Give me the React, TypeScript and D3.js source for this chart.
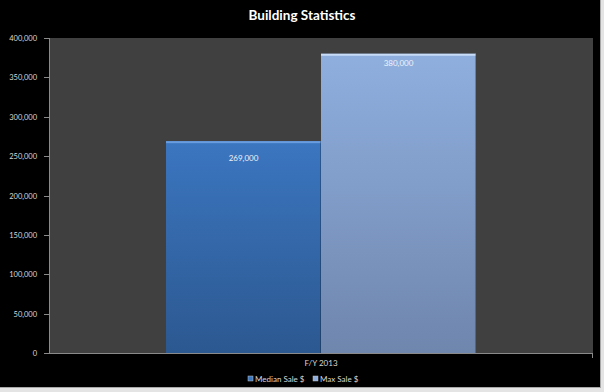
import React from 'react';
import * as d3 from 'd3';

const W = 604;
const H = 392;
const MARGIN = { top: 38, right: 12, bottom: 39, left: 49 };

const categories = ['F/Y 2013'];
const seriesNames = ['Median Sale $', 'Max Sale $'];
const values = [269000, 380000];
const yTicks = [0, 50000, 100000, 150000, 200000, 250000, 300000, 350000, 400000];

const FONT = 'Lato, "Open Sans", sans-serif';

const App = () => {
  const plotRight = MARGIN.left + 544;
  const plotBottom = 353;

  const x = d3.scaleBand().domain(categories).range([MARGIN.left, plotRight]);
  const xs = d3
    .scaleBand()
    .domain(seriesNames)
    .range([0, x.bandwidth()])
    .paddingOuter(0.755)
    .paddingInner(0);
  const y = d3.scaleLinear().domain([0, 400000]).range([plotBottom, MARGIN.top]);
  const fmt = d3.format(',');

  // label offset below the bar top, as placed in the original
  const labelDy = [20, 12];

  const grads = [
    { id: 'g0', top: '#3b76c0', bottom: '#2c5890', hi: '#6a9de0' },
    { id: 'g1', top: '#8fafdf', bottom: '#6f86ad', hi: '#c8dcf8' },
  ];

  return (
    <svg
      width={W}
      height={H}
      style={{ position: 'absolute', left: 0, top: 0 }}
      fontFamily={FONT}
    >
      <defs>
        {grads.map((g) => (
          <linearGradient key={g.id} id={g.id} x1="0" y1="0" x2="0" y2="1">
            <stop offset="0%" stopColor={g.top} />
            <stop offset="100%" stopColor={g.bottom} />
          </linearGradient>
        ))}
      </defs>
      {/* screenshot frame shadow */}
      <rect x={0} y={0} width={W} height={H} fill="#e4e4e4" />
      <rect x={0} y={0} width={601} height={388} fill="#a8a8a8" />
      <rect x={0} y={0} width={600} height={387} fill="#000" />

      <text x={302} y={20} textAnchor="middle" fill="#fff" fontSize={13.5} fontWeight="bold">
        Building Statistics
      </text>

      <rect
        x={MARGIN.left}
        y={MARGIN.top}
        width={plotRight - MARGIN.left}
        height={plotBottom - MARGIN.top}
        fill="#404040"
      />

      {/* axes */}
      <line x1={MARGIN.left + 0.5} x2={MARGIN.left + 0.5} y1={MARGIN.top} y2={plotBottom} stroke="#8a8a8a" />
      <line x1={MARGIN.left} x2={plotRight} y1={plotBottom + 0.5} y2={plotBottom + 0.5} stroke="#8a8a8a" />
      <line x1={plotRight - 0.5} x2={plotRight - 0.5} y1={plotBottom} y2={plotBottom + 5} stroke="#8a8a8a" />
      {yTicks.map((t) => (
        <g key={t}>
          <line
            x1={MARGIN.left - 5}
            x2={MARGIN.left}
            y1={Math.round(y(t)) + 0.5}
            y2={Math.round(y(t)) + 0.5}
            stroke="#8a8a8a"
          />
          <text
            x={MARGIN.left - 12}
            y={y(t) + 3}
            textAnchor="end"
            fill="#d8d8d8"
            fontSize={7.5}
          >
            {fmt(t)}
          </text>
        </g>
      ))}

      {/* bars */}
      {categories.map((c) => (
        <g key={c}>
          {seriesNames.map((s, i) => {
            const bx = (x(c) ?? 0) + (xs(s) ?? 0);
            const bw = xs.bandwidth();
            const by = y(values[i]);
            return (
              <g key={s}>
                <rect x={bx} y={by} width={bw} height={plotBottom - by} fill={`url(#${grads[i].id})`} />
                <rect x={bx} y={by} width={bw} height={2} fill={grads[i].hi} />
                <rect x={bx + bw - 1} y={by} width={1} height={plotBottom - by} fill="#000" opacity={0.25} />
                <text
                  x={bx + bw / 2}
                  y={by + labelDy[i]}
                  textAnchor="middle"
                  fill="#eef2f8"
                  fontSize={8}
                >
                  {fmt(values[i])}
                </text>
              </g>
            );
          })}
          <text
            x={(x(c) ?? 0) + x.bandwidth() / 2}
            y={366}
            textAnchor="middle"
            fill="#d8d8d8"
            fontSize={8}
          >
            {c}
          </text>
        </g>
      ))}

      {/* legend */}
      {seriesNames.map((s, i) => {
        const lx = i === 0 ? 248 : 313;
        return (
          <g key={s}>
            <rect x={lx} y={376} width={5} height={5} fill={grads[i].top} stroke="#c0c0c0" strokeWidth={0.5} />
            <text x={lx + 7} y={381.5} fill="#d8d8d8" fontSize={8}>
              {s}
            </text>
          </g>
        );
      })}
    </svg>
  );
};

export default App;
